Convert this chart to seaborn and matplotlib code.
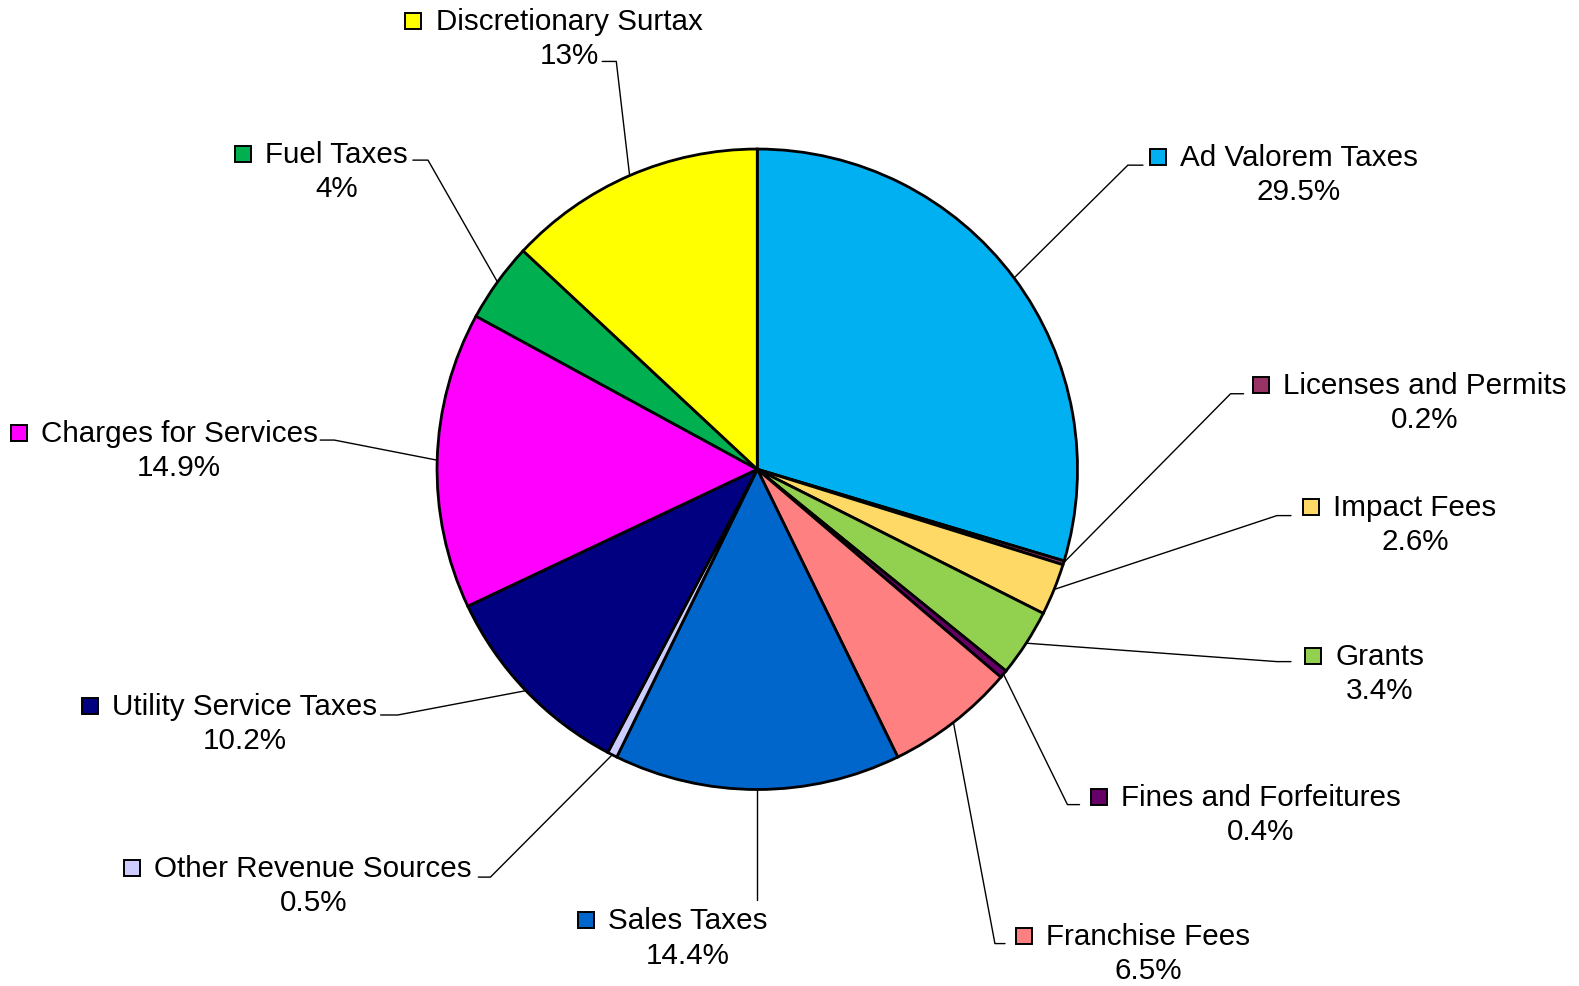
import matplotlib
matplotlib.use("Agg")
import matplotlib.pyplot as plt
import seaborn as sns
import numpy as np

sns.set_theme(style="white")
plt.rcParams['font.family'] = ['Liberation Sans', 'DejaVu Sans']

# revenue sources, clockwise from 12 o'clock
labels = ['Ad Valorem Taxes', 'Licenses and Permits', 'Impact Fees', 'Grants',
          'Fines and Forfeitures', 'Franchise Fees', 'Sales Taxes',
          'Other Revenue Sources', 'Utility Service Taxes', 'Charges for Services',
          'Fuel Taxes', 'Discretionary Surtax']
shares = [29.5, 0.2, 2.6, 3.4, 0.4, 6.5, 14.4, 0.5, 10.2, 14.9, 4, 13]
pct_text = ['29.5%', '0.2%', '2.6%', '3.4%', '0.4%', '6.5%', '14.4%', '0.5%',
            '10.2%', '14.9%', '4%', '13%']
colors = ['#00B0F0', '#993366', '#FFD966', '#92D050', '#660066', '#FF8080',
          '#0066CC', '#CCCCFF', '#000080', '#FF00FF', '#00B050', '#FFFF00']

# label layout in image pixels (x of text centre, y of first line,
# leader end x, leader elbow x, leader y); None = straight drop
S = 1579 / 1568
layout = {
    'Ad Valorem Taxes':      (1290, 157, 1135, 1120, 165),
    'Licenses and Permits':  (1415, 383, 1235, 1222, 392),
    'Impact Fees':           (1405, 504, 1282, 1268, 513),
    'Grants':                (1370, 652, 1282, 1268, 658),
    'Fines and Forfeitures': (1252, 792, 1072, 1060, 800),
    'Franchise Fees':        (1140, 930, 998, 988, 938),
    'Sales Taxes':           (683, 915, None, None, 895),
    'Other Revenue Sources': (311, 863, 475, 487, 872),
    'Utility Service Taxes': (243, 702, 378, 395, 711),
    'Charges for Services':  (178, 431, 318, 332, 438),
    'Fuel Taxes':            (334, 154, 410, 425, 160),
    'Discretionary Surtax':  (565, 22, 598, 612, 62),
}

W, H = 1579, 987
fig = plt.figure(figsize=(W / 100, H / 100), dpi=100)
ax = fig.add_axes([0, 0, 1, 1])

cx, cy, R = 752 * S, 467 * S, 318 * S

# y axis is inverted, so counterclock=True draws clockwise on screen
wedges, _ = ax.pie(shares, colors=colors, startangle=-90, counterclock=True,
                   center=(cx, cy), radius=R, frame=True,
                   wedgeprops=dict(edgecolor='black', linewidth=2.0))
ax.set_xlim(0, W)
ax.set_ylim(H, 0)
ax.set_aspect('equal')
ax.axis('off')

fig.canvas.draw()
renderer = fig.canvas.get_renderer()
fs = 21.3

for w, name, pct, col in zip(wedges, labels, pct_text, colors):
    tx, ty, ex, bx, ly = layout[name]
    tx, ty, ly = tx * S, ty * S, ly * S
    mid = np.deg2rad((w.theta1 + w.theta2) / 2)
    px, py = cx + R * np.cos(mid), cy + R * np.sin(mid)
    if ex is None:
        ax.plot([px, px], [py, ly], color='black', lw=1.0, zorder=1)
    else:
        ax.plot([px, bx * S, ex * S], [py, ly, ly], color='black', lw=1.0, zorder=1)

    t1 = ax.text(tx, ty, name, ha='center', va='center', fontsize=fs, color='black')
    ax.text(tx, ty + 34 * S, pct, ha='center', va='center', fontsize=fs, color='black')
    bb = t1.get_window_extent(renderer)
    left = ax.transData.inverted().transform((bb.x0, bb.y0))[0]
    ax.plot(left - 22 * S, ty, marker='s', markersize=11, markerfacecolor=col,
            markeredgecolor='black', markeredgewidth=1.4, linestyle='none')

fig.savefig('out.png', dpi=100)
